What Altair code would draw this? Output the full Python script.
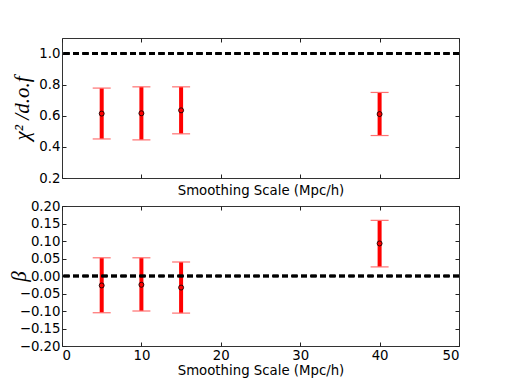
import altair as alt
import pandas as pd

scales = [5, 10, 15, 40]
chi_val = [0.614, 0.616, 0.635, 0.611]
chi_lo = [0.451, 0.445, 0.484, 0.473]
chi_hi = [0.778, 0.786, 0.786, 0.750]
beta_val = [-0.027, -0.025, -0.033, 0.093]
beta_lo = [-0.105, -0.100, -0.106, 0.026]
beta_hi = [0.052, 0.052, 0.040, 0.159]

x_ticks = [0, 10, 20, 30, 40, 50]
chi_ticks = [0.2, 0.4, 0.6, 0.8, 1.0]
beta_ticks = [-0.20, -0.15, -0.10, -0.05, 0.00, 0.05, 0.10, 0.15, 0.20]

W, H = 397, 140
RED = "#ff0000"
CAP = "#ff7070"
SANS = "DejaVu Sans"
SERIF = "Liberation Serif"


def panel(vals, los, his, ydomain, yticks, yfmt, ytitle, title_x, ref, show_xlabels):
    df = pd.DataFrame({"scale": scales, "val": vals, "lo": los, "hi": his})
    xs = alt.Scale(domain=[0, 50], nice=False, zero=False)
    ys = alt.Scale(domain=ydomain, nice=False, zero=False)
    x_main = alt.Axis(orient="bottom", values=x_ticks, format="d", labels=show_xlabels,
                      domain=False, grid=False, ticks=True, tickSize=4, offset=-4,
                      tickColor="#222", labelPadding=2, titlePadding=2 if show_xlabels else 5)
    y_main = alt.Axis(orient="left", values=yticks, format=yfmt, domain=False, grid=False,
                      ticks=True, tickSize=4, offset=-4, tickColor="#222", labelPadding=2,
                      titleFont=SERIF, titleFontStyle="italic", titleFontWeight="normal",
                      titleFontSize=21, titleAngle=-90, titleX=title_x, titleY=H / 2,
                      titleAlign="center", titleBaseline="middle")
    x_top = alt.Axis(orient="top", values=x_ticks, labels=False, domain=False, grid=False,
                     ticks=True, tickSize=4, offset=-4, tickColor="#222", title=None)
    y_right = alt.Axis(orient="right", values=yticks, labels=False, domain=False, grid=False,
                       ticks=True, tickSize=4, offset=-4, tickColor="#222", title=None)
    base = alt.Chart(df)
    bar = base.mark_rule(color=RED, strokeWidth=4).encode(
        x=alt.X("scale:Q", scale=xs, axis=x_main, title="Smoothing Scale (Mpc/h)"),
        y=alt.Y("lo:Q", scale=ys, axis=y_main, title=ytitle),
        y2="hi:Q",
    )
    cap_hi = base.mark_tick(orient="horizontal", size=18, thickness=1.2, color=CAP, opacity=1).encode(
        x=alt.X("scale:Q", scale=xs, axis=x_top),
        y=alt.Y("hi:Q", scale=ys, axis=y_right),
    )
    cap_lo = base.mark_tick(orient="horizontal", size=18, thickness=1.2, color=CAP, opacity=1).encode(
        x=alt.X("scale:Q", scale=xs, axis=None),
        y=alt.Y("lo:Q", scale=ys, axis=None),
    )
    dash = base.mark_rule(color="black", strokeWidth=2.5, strokeDash=[6, 3.5]).encode(
        y=alt.Y(datum=ref, type="quantitative", scale=ys, axis=None),
    )
    pts = base.mark_circle(color=RED, stroke="black", strokeWidth=0.8, size=25, opacity=1).encode(
        x=alt.X("scale:Q", scale=xs, axis=None),
        y=alt.Y("val:Q", scale=ys, axis=None),
    )
    return alt.layer(bar, cap_hi, cap_lo, dash, pts).resolve_axis(
        x="independent", y="independent"
    ).properties(width=W, height=H)


top = panel(chi_val, chi_lo, chi_hi, [0.2, 1.1], chi_ticks, ".1f", "χ² /d.o.f", -43.5, 1.0, False)
bottom = panel(beta_val, beta_lo, beta_hi, [-0.2, 0.2], beta_ticks, ".2f", "β", -46.5, 0.0, True)

chart = alt.vconcat(top, bottom, spacing=28, bounds="flush").properties(
    padding={"left": 0, "top": 29, "right": 5, "bottom": 5},
    background="white",
).configure_view(stroke="#333", strokeWidth=1).configure_axis(
    labelFont=SANS, labelFontSize=13.3, labelColor="black",
    titleFont=SANS, titleFontSize=13.3, titleFontWeight="normal", titleColor="black",
)

chart.save("out.html", embed_options={"renderer": "svg", "actions": False})
